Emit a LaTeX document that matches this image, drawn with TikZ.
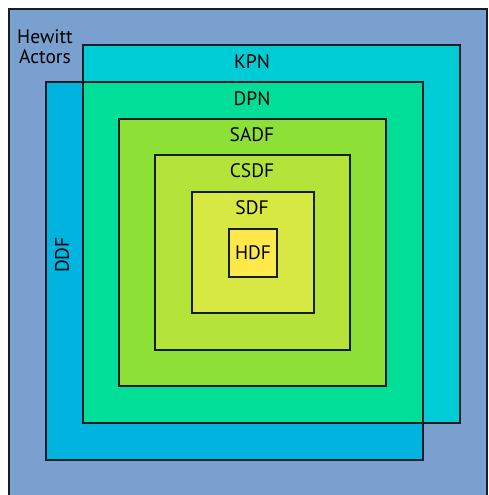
\documentclass[tikz,border=0pt]{standalone}
\usepackage{fontspec}
\setmainfont{PT Sans}
\usetikzlibrary{positioning}
\definecolor{cEdge}{RGB}{20,30,38}
\definecolor{cHewitt}{RGB}{122,160,207}
\definecolor{cKPN}{RGB}{0,204,214}
\definecolor{cDDF}{RGB}{0,180,223}
\definecolor{cDPN}{RGB}{0,222,152}
\definecolor{cSADF}{RGB}{140,224,54}
\definecolor{cCSDF}{RGB}{180,228,58}
\definecolor{cSDF}{RGB}{216,232,66}
\definecolor{cHDF}{RGB}{255,232,74}
\tikzset{
  box/.style={draw=cEdge, line width=1.4pt},
  lbl/.style={font=\fontsize{19.5}{20}\selectfont, inner sep=0pt, anchor=base},
}

\begin{document}
\begin{tikzpicture}[x=1pt, y=-1pt]
\useasboundingbox (0,0) rectangle (488,495);
\clip (0,0) rectangle (488,495);
\fill[white] (0,0) rectangle (488,495);
% outer set
\draw[box, fill=cHewitt] (9,9) rectangle (487,530);
% two overlapping sets and their intersection
\fill[cKPN] (83,45) rectangle (460,423);
\fill[cDDF] (46,82) rectangle (423,460);
\fill[cDPN] (83,82) rectangle (423,423);
\draw[box] (83,45) rectangle (460,423);
\draw[box] (46,82) rectangle (423,460);
% nested sets
\draw[box, fill=cSADF] (119,119) rectangle (386,386);
\draw[box, fill=cCSDF] (155,155) rectangle (350,350);
\draw[box, fill=cSDF] (192,192) rectangle (314,313);
\draw[box, fill=cHDF] (229,229) rectangle (277,277);

\node[lbl, anchor=center, align=center] (hewitt) at (45,47) {Hewitt\\Actors};
\node[lbl] (kpn) at (252,68.5) {KPN};
\node[lbl] (dpn) at (252,105.5) {DPN};
\node[lbl] (sadf) at (252,141.5) {SADF};
\node[lbl] (csdf) at (252,177.5) {CSDF};
\node[lbl] (sdf) at (252,214.5) {SDF};
\node[lbl] (hdf) at (253,259.5) {HDF};
\node[lbl, anchor=center, rotate=90] (ddf) at (62,255) {DDF};
\end{tikzpicture}
\end{document}
